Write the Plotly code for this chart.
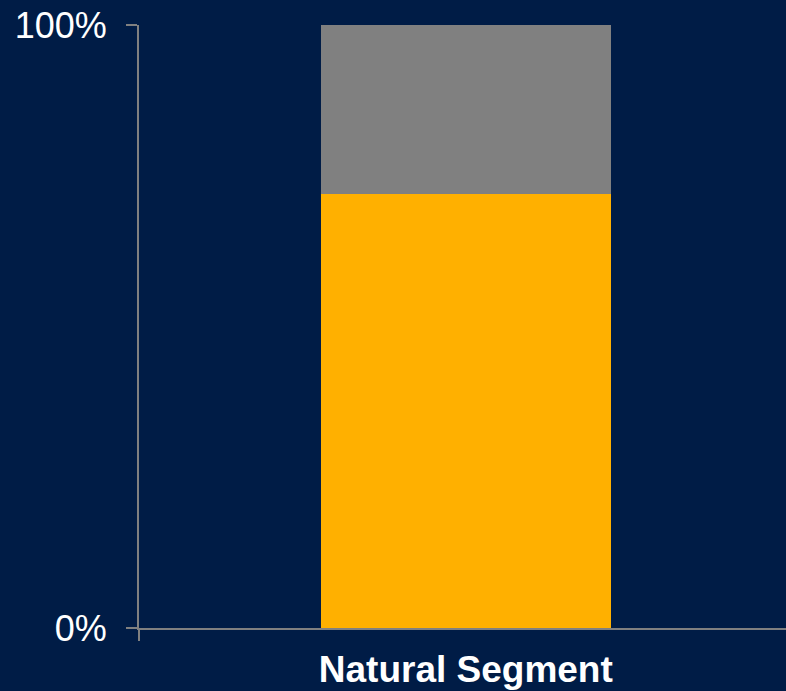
import plotly.graph_objects as go

# Stacked 100% column for a single segment
categories = ["Natural Segment"]
primary_share = [72]     # lower (orange) part, percent
remainder_share = [28]   # upper (gray) part, percent

tick_values = [0, 100]
tick_labels = ["0%", "100%"]

BG = "#001C46"
AXIS = "#808080"
FONT = "Liberation Sans, Arial, sans-serif"

fig = go.Figure()
fig.add_trace(go.Bar(
    x=categories, y=primary_share, name="Primary",
    marker=dict(color="#FFB000", line=dict(width=0)),
    width=0.4437,
))
fig.add_trace(go.Bar(
    x=categories, y=remainder_share, name="Remainder",
    marker=dict(color="#808080", line=dict(width=0)),
    width=0.4437,
))

fig.update_layout(
    barmode="stack",
    width=786, height=691,
    margin=dict(l=139, r=0, t=25, b=63),
    paper_bgcolor=BG, plot_bgcolor=BG,
    showlegend=False,
    font=dict(family=FONT, color="white", size=36),
)
fig.update_xaxes(
    type="category",
    range=[-0.5, 0.49],
    showline=True, linecolor=AXIS, linewidth=2,
    ticks="outside", tickson="boundaries", ticklen=11, tickwidth=2, tickcolor=AXIS,
    showgrid=False, zeroline=False,
    tickfont=dict(family=FONT, size=37, color="white", weight="bold"),
    ticklabelstandoff=8,
)
fig.update_yaxes(
    range=[0, 100],
    tickvals=tick_values, ticktext=tick_labels,
    showline=True, linecolor=AXIS, linewidth=2,
    ticks="outside", ticklen=11, tickwidth=2, tickcolor=AXIS,
    showgrid=False, zeroline=False,
    tickfont=dict(family=FONT, size=36, color="white"),
    ticklabelstandoff=12,
)

fig.write_html("out.html")
